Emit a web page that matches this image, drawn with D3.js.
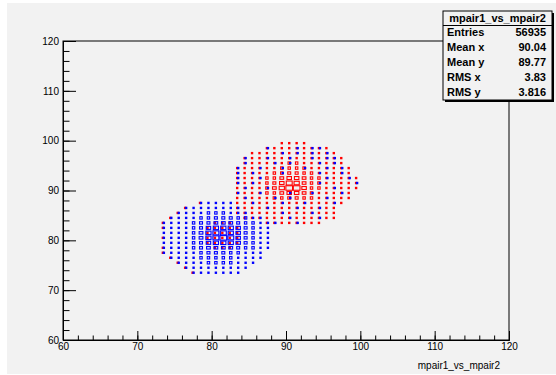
<!DOCTYPE html>
<html>
<head>
<meta charset="utf-8">
<script src="https://cdn.jsdelivr.net/npm/d3@7"></script>
<style>
body { margin: 0; background: #fff; }
</style>
</head>
<body>
<div id="chart"></div>
<script>
// axis ranges + ticks
var xDomain = [60, 120],
    yDomain = [60, 120];
var majorTicks = [60, 70, 80, 90, 100, 110, 120];

// centre of first column / first row of the bin grids (bins are 1 wide)
var gridX0 = 73.5,
    gridY0 = 99.5;

// box size per bin, 0-9 ("." = empty). rows go from y=99.5 down to 73.5,
// columns from x=73.5 to 99.5
var redGrid = [
    "................1111.......",
    "..............111111111....",
    "............111111111111...",
    "...........11111111111111..",
    "...........11111122111111..",
    "..........1111112222111111.",
    "..........1111122332211111.",
    "..........11112245542211111",
    "..........11112357642211111",
    "..........11112468852211111",
    "..........1111224554211111.",
    "..........1111122332211111.",
    ".....1....111111111111111..",
    "...1......11111111111111...",
    "..1.......11111111111111...",
    ".1.........1111111111111...",
    "1......111....11111111.....",
    "1.....11111................",
    "......11111................",
    "1.....11111................",
    "......11111................",
    "1......111.................",
    "1..........................",
    ".1.........................",
    "..1........................",
    "...1.......................",
    "....1......................"
];

var blueGrid = [
    "...........................",
    "..............1...1.11.....",
    "................1.1.1.1....",
    "...........1..1..1..1.11...",
    "...........1...1.1...1.1...",
    "..........1..1..1..1..1.1..",
    "..........1.1...1....1..1..",
    "..........1..1........1..1.",
    "..........1.1........1....1",
    "...........1..1........1...",
    "..........1..1...1..1...1..",
    "...........1...1.1....1....",
    ".....11111..1...1..1...1...",
    "...11111111...1...1..1.....",
    "..1111222111....1...1......",
    ".1111223332211...1...1.....",
    "1111233444322111..1........",
    "111123566653211............",
    "111124677653211............",
    "111124678753211............",
    "111123566653211............",
    "111123444432211............",
    "11111233322111.............",
    ".1111222221111.............",
    "..11112222111..............",
    "...111111111...............",
    "....1111111................"
];

var statsTitle = "mpair1_vs_mpair2";
var statsNames = ["Entries", "Mean x", "Mean y", "RMS x", "RMS y"];
var statsValues = ["56935", "90.04", "89.77", "3.83", "3.816"];
var xTitle = "mpair1_vs_mpair2";

var width = 556,
    height = 375;

var svg = d3.select("#chart")
    .append("svg")
    .attr("width", width)
    .attr("height", height)
    .style("font-family", "'Liberation Sans', Arial, sans-serif");

// canvas
svg.append("rect")
    .attr("x", 7).attr("y", 3)
    .attr("width", width - 7).attr("height", height - 4)
    .attr("fill", "#f2f2f2");

var x = d3.scaleLinear().domain(xDomain).range([63, 509]);
var y = d3.scaleLinear().domain(yDomain).range([340, 41]);

var binW = x(61) - x(60),
    binH = y(60) - y(61);

/* turn grid strings into bin objects */
function toBins(grid) {
    var bins = [];
    grid.forEach(function(row, r) {
        row.split("").forEach(function(ch, c) {
            if (ch === ".") return;
            bins.push({ x: gridX0 + c, y: gridY0 - r, level: +ch });
        });
    });
    return bins;
}

function boxW(d) { return Math.max(2.4, binW * (d.level + 1) / 10); }
function boxH(d) { return Math.max(2.4, binH * (d.level + 1) / 10); }

function drawBoxes(bins, color, shift) {
    var g = svg.append("g");
    // small bins -> filled dots
    g.selectAll("rect.dot")
        .data(bins.filter(function(d) { return d.level < 2; }))
        .enter().append("rect")
        .attr("class", "dot")
        .attr("x", function(d) { return x(d.x) - 1.2 + shift; })
        .attr("y", function(d) { return y(d.y) - 1.2; })
        .attr("width", 2.4)
        .attr("height", 2.4)
        .attr("fill", color);
    // bigger bins -> open boxes
    g.selectAll("rect.box")
        .data(bins.filter(function(d) { return d.level >= 2; }))
        .enter().append("rect")
        .attr("class", "box")
        .attr("x", function(d) { return x(d.x) - boxW(d) / 2 + shift; })
        .attr("y", function(d) { return y(d.y) - boxH(d) / 2; })
        .attr("width", boxW)
        .attr("height", boxH)
        .attr("fill", "none")
        .attr("stroke", color)
        .attr("stroke-width", 1.1);
}

drawBoxes(toBins(redGrid), "#ff0000", -0.5);
drawBoxes(toBins(blueGrid), "#0000ff", 0.5);

// frame
svg.append("rect")
    .attr("x", x(60)).attr("y", y(120))
    .attr("width", x(120) - x(60)).attr("height", y(60) - y(120))
    .attr("fill", "none")
    .attr("stroke", "#000");

/* axes */
var minorTicks = d3.range(60, 121, 2);

var yMinor = svg.append("g")
    .attr("transform", "translate(" + x(60) + ",0)")
    .call(d3.axisLeft(y).tickValues(minorTicks).tickSize(-6.5).tickFormat(""));
var yMajor = svg.append("g")
    .attr("transform", "translate(" + x(60) + ",0)")
    .call(d3.axisLeft(y).tickValues(majorTicks).tickSize(-13).tickSizeOuter(0).tickPadding(4));

var xMinor = svg.append("g")
    .attr("transform", "translate(0," + y(60) + ")")
    .call(d3.axisBottom(x).tickValues(minorTicks).tickSize(-4.5).tickFormat(""));
var xMajor = svg.append("g")
    .attr("transform", "translate(0," + y(60) + ")")
    .call(d3.axisBottom(x).tickValues(majorTicks).tickSize(-9).tickSizeOuter(0).tickPadding(3));

[yMinor, yMajor, xMinor, xMajor].forEach(function(a) {
    a.select(".domain").attr("stroke", "#000");
    a.selectAll(".tick line").attr("stroke", "#000");
    a.selectAll("text")
        .attr("font-family", "'Liberation Sans', Arial, sans-serif")
        .attr("font-size", 10)
        .attr("fill", "#000");
});

svg.append("text")
    .attr("x", 500)
    .attr("y", 369)
    .attr("text-anchor", "end")
    .attr("font-size", 10)
    .text(xTitle);

/* stats box */
var sx = 443, sy = 11, sw = 109, sh = 89;
svg.append("rect")
    .attr("x", sx + 2).attr("y", sy + 2)
    .attr("width", sw).attr("height", sh)
    .attr("fill", "#000");
svg.append("rect")
    .attr("x", sx).attr("y", sy)
    .attr("width", sw).attr("height", sh)
    .attr("fill", "#f2f2f2")
    .attr("stroke", "#000");
svg.append("line")
    .attr("x1", sx).attr("x2", sx + sw)
    .attr("y1", sy + 14.5).attr("y2", sy + 14.5)
    .attr("stroke", "#000");
svg.append("text")
    .attr("x", sx + sw / 2)
    .attr("y", sy + 11)
    .attr("text-anchor", "middle")
    .attr("font-size", 11)
    .attr("font-weight", "bold")
    .text(statsTitle);

var rows = svg.append("g")
    .selectAll("g")
    .data(statsNames)
    .enter().append("g")
    .attr("transform", function(d, i) { return "translate(0," + (36 + i * 14.9) + ")"; });
rows.append("text")
    .attr("x", sx + 4)
    .attr("font-size", 11)
    .attr("font-weight", "bold")
    .text(function(d) { return d; });
rows.append("text")
    .attr("x", sx + sw - 6)
    .attr("text-anchor", "end")
    .attr("font-size", 11)
    .attr("font-weight", "bold")
    .text(function(d, i) { return statsValues[i]; });
</script>
</body>
</html>
